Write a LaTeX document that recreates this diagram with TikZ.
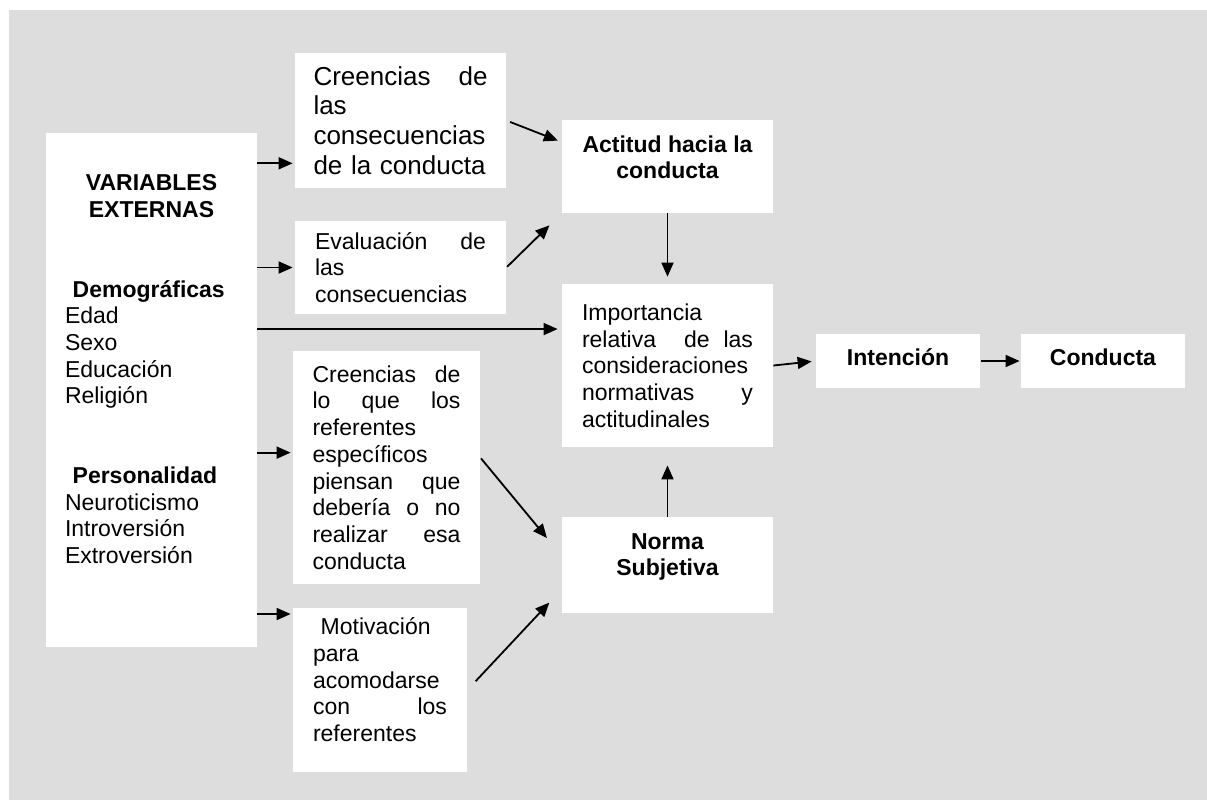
\documentclass[tikz,border=0pt]{standalone}
\usepackage{fontspec}
\setmainfont{Liberation Sans}
\usepackage{tikz}
\usetikzlibrary{arrows.meta}
\definecolor{fondo}{HTML}{DDDDDD}
\setlength{\parindent}{0pt}

\begin{document}
\begin{tikzpicture}[x=0.5pt,y=-0.5pt,
    caja/.style={fill=white,inner sep=0pt,align=left,
                 font=\fontsize{11.5}{13.35}\selectfont},
    titulo/.style={caja,align=center,
                   font=\fontsize{11.5}{13.35}\selectfont\bfseries},
    flecha/.style={line width=0.9pt,-{Triangle[length=7pt,width=6pt]}},
  ]
  \fill[white] (0,0) rectangle (1207,800);
  \fill[fondo] (9,10) rectangle (1207,800);

  \node[caja,minimum width=105.5pt,minimum height=257pt,text width=86.5pt] (VE) at (151.5,390)
    {\hfill\textbf{VARIABLES}\hfill\mbox{}\\
     \hfill\textbf{EXTERNAS}\hfill\mbox{}\\[26.5pt]
     ~\textbf{Demográficas}\\
     Edad\\Sexo\\Educación\\Religión\\[26.5pt]
     ~\textbf{Personalidad}\\
     Neuroticismo\\Introversión\\Extroversión\\[7.5pt]\mbox{}};

  \node[caja,minimum width=105.5pt,minimum height=67.5pt,text width=87pt,
        font=\fontsize{13}{14.85}\selectfont] (C1) at (400.5,120.5)
    {Creencias\hfill de\\las\\consecuencias\\de la conducta};
  \node[caja,minimum width=105.5pt,minimum height=46.5pt,text width=85.5pt] (Eval) at (400.5,267.5)
    {Evaluación\hfill de\\las\\consecuencias};
  \node[caja,minimum width=93.5pt,minimum height=116.5pt,text width=74pt] (C2) at (386.5,467.5)
    {Creencias\hfill de\\lo\hfill que\hfill los\\referentes\\específicos\\
     piensan\hfill que\\debería\hfill o\hfill no\\realizar\hfill esa\\conducta};
  \node[caja,minimum width=87pt,minimum height=82pt,text width=67pt] (Motiv) at (380,690)
    {~Motivación\\para\\acomodarse\\con\hfill los\\referentes\\[-3pt]\mbox{}};

  \node[titulo,minimum width=105.5pt,minimum height=46.5pt] (Actitud) at (667.5,166.5)
    {Actitud hacia la\\conducta\\[-4pt]\mbox{}};
  \node[caja,minimum width=105.5pt,minimum height=81.5pt,text width=85.5pt] (Import) at (667.5,365.5)
    {Importancia\\relativa\hfill\hfill de\hfill las\\consideraciones\\
     normativas\hfill y\\actitudinales};
  \node[titulo,minimum width=105.5pt,minimum height=48pt] (Norma) at (667.5,565)
    {Norma\\Subjetiva\\[-3pt]\mbox{}};

  \node[titulo,minimum width=82pt,minimum height=27pt,text height=8pt,text depth=4pt] (Intencion) at (898,361) {Intención};
  \node[titulo,minimum width=82pt,minimum height=27pt,text height=8pt,text depth=4pt] (Conducta) at (1103,361) {Conducta};

  \draw[flecha,shorten >=1pt] (VE.east |- C1.202) -- (C1.202);
  \draw[flecha,shorten >=1pt] (VE.east |- Eval.west) -- (Eval.west);
  \draw[flecha,shorten >=2pt] (VE.east |- Import.161) -- (Import.161);
  \draw[flecha,shorten >=1pt] (VE.east |- C2.171) -- (C2.171);
  \draw[flecha,shorten >=1pt] (VE.east |- Motiv.139) -- (Motiv.139);

  \draw[flecha,shorten <=2pt,shorten >=2pt] (C1.east) -- (Actitud.167);
  \draw[flecha,shorten <=0.5pt,shorten >=8.5pt] (Eval.east) -- (Actitud.south west);
  \draw[flecha,shorten <=0.5pt,shorten >=11.5pt] (C2.6) -- (Norma.175);
  \draw[flecha,shorten <=6pt,shorten >=9pt] (Motiv.east) -- (Norma.193);

  \draw[flecha,shorten >=3.5pt] (Actitud.south) -- (Import.north);
  \draw[flecha,shorten >=9pt] (Norma.north) -- (Import.south);
  \draw[flecha,shorten >=2pt] (Import.east) -- (Intencion.west);
  \draw[flecha,shorten <=0.5pt,shorten >=0.5pt] (Intencion.east) -- (Conducta.west);
\end{tikzpicture}
\end{document}
